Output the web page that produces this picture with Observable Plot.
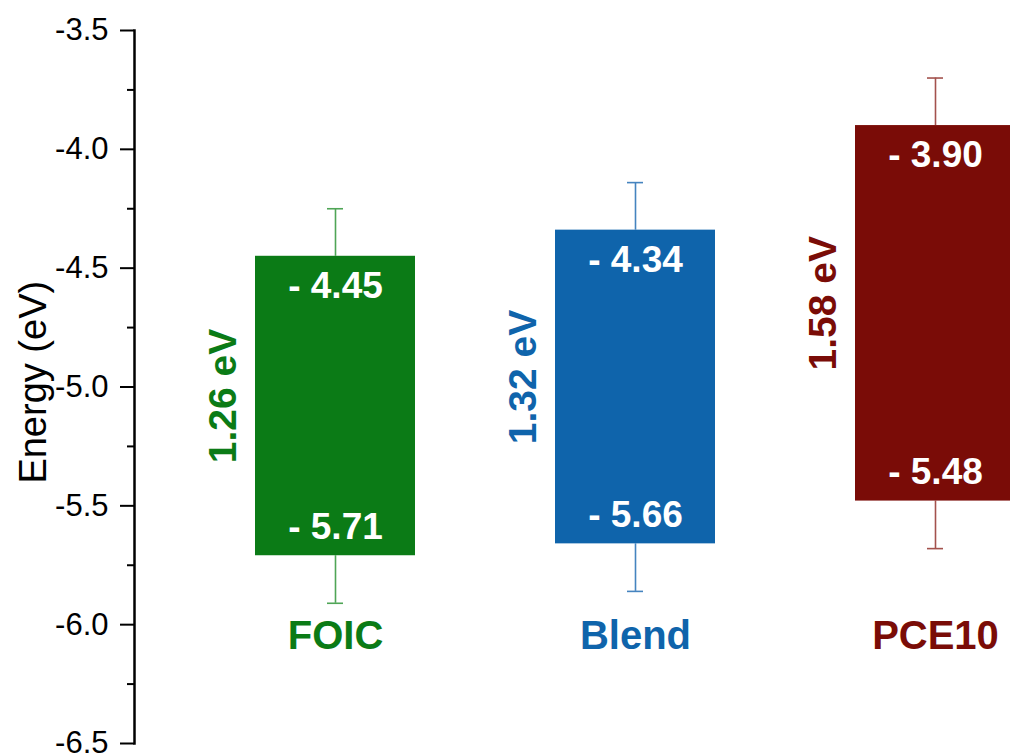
<!DOCTYPE html>
<html>
<head>
<meta charset="utf-8">
<script src="https://cdn.jsdelivr.net/npm/d3@7"></script>
<script src="https://cdn.jsdelivr.net/npm/@observablehq/plot@0.6"></script>
<style>
  html, body { margin: 0; padding: 0; background: #fff; }
  #chart svg { display: block; font-family: "Liberation Sans", Arial, sans-serif; }
</style>
</head>
<body>
<div id="chart"></div>
<script>
// Energy levels (eV) of each material
const categories = ["FOIC", "Blend", "PCE10"];
const lumo = [-4.45, -4.34, -3.90];
const homo = [-5.71, -5.66, -5.48];
const lumoWhisker = [-4.25, -4.14, -3.70];
const homoWhisker = [-5.91, -5.86, -5.68];
const gaps = [1.26, 1.32, 1.58];
const colors = ["#0b7b16", "#0f64ab", "#7a0c07"];
const whiskerColors = ["#4fa556", "#4584bf", "#a3524d"];
const majorTicks = [-6.5, -6.0, -5.5, -5.0, -4.5, -4.0, -3.5];
const minorTicks = [-6.25, -5.75, -5.25, -4.75, -4.25, -3.75];

const rows = categories.map((c, i) => ({
  name: c,
  lumo: lumo[i],
  homo: homo[i],
  up: lumoWhisker[i],
  down: homoWhisker[i],
  gap: gaps[i],
  mid: (lumo[i] + homo[i]) / 2,
  color: colors[i],
  whisker: whiskerColors[i]
}));

const fmt = v => "- " + Math.abs(v).toFixed(2);

const chart = Plot.plot({
  width: 1010,
  height: 755,
  marginLeft: 134,
  marginRight: 0,
  marginTop: 30,
  marginBottom: 12,
  style: { fontFamily: "Liberation Sans, Arial, sans-serif", background: "white", overflow: "visible" },
  x: { type: "band", domain: categories, range: [255, 1015], paddingInner: 140 / 300, paddingOuter: 0, align: 0, axis: null },
  y: { domain: [-6.5, -3.5], axis: null },
  marks: [
    // whiskers
    Plot.ruleX(rows, { x: "name", y1: "lumo", y2: "up", stroke: d => d.whisker, strokeWidth: 1.6 }),
    Plot.ruleX(rows, { x: "name", y1: "homo", y2: "down", stroke: d => d.whisker, strokeWidth: 1.6 }),
    Plot.tickY(rows, { x: "name", y: "up", stroke: d => d.whisker, strokeWidth: 1.6, insetLeft: 72, insetRight: 72 }),
    Plot.tickY(rows, { x: "name", y: "down", stroke: d => d.whisker, strokeWidth: 1.6, insetLeft: 72, insetRight: 72 }),
    // energy bars
    Plot.barY(rows, { x: "name", y1: "homo", y2: "lumo", fill: d => d.color }),
    // level values
    Plot.text(rows, { x: "name", y: "lumo", text: d => fmt(d.lumo), dy: 30, fill: "white", fontSize: 37, fontWeight: "bold" }),
    Plot.text(rows, { x: "name", y: "homo", text: d => fmt(d.homo), dy: -29, fill: "white", fontSize: 37, fontWeight: "bold" }),
    // band gaps
    Plot.text(rows, { x: "name", y: "mid", text: d => d.gap.toFixed(2) + " eV", dx: -112, dy: -10, rotate: -90, fill: d => d.color, fontSize: 39, fontWeight: "bold" }),
    // material names
    Plot.text(rows, { x: "name", y: () => -6.05, text: "name", fill: d => d.color, fontSize: 40, fontWeight: "bold" }),
    // y axis
    Plot.axisY({ ticks: minorTicks, tickSize: 7, tickFormat: () => "", strokeWidth: 2, stroke: "black" }),
    Plot.axisY({ ticks: majorTicks, tickSize: 14, tickPadding: 12, tickFormat: d => d.toFixed(1), fontSize: 31, strokeWidth: 2, stroke: "black", fill: "black", label: null }),
    Plot.frame({ anchor: "left", stroke: "black", strokeWidth: 2.5 }),
    Plot.text(["Energy (eV)"], { frameAnchor: "left", textAnchor: "middle", dx: -101, y: () => -4.98, text: d => d, rotate: -90, fontSize: 38, fill: "black" })
  ]
});

document.getElementById("chart").appendChild(chart);
</script>
</body>
</html>
